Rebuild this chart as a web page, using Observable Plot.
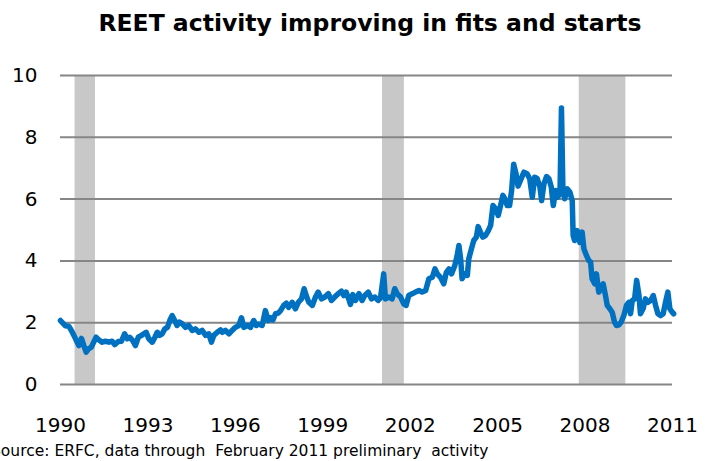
<!DOCTYPE html>
<html><head><meta charset="utf-8">
<script src="https://cdn.jsdelivr.net/npm/d3@7"></script>
<script src="https://cdn.jsdelivr.net/npm/@observablehq/plot@0.6"></script>
<style>
body{margin:0;background:#fff;width:712px;height:461px;overflow:hidden;position:relative;font-family:"DejaVu Sans",Verdana,sans-serif}
#title{position:absolute;left:0;top:9px;width:740px;text-align:center;font-weight:bold;font-size:23.5px;color:#000;white-space:nowrap}
#chart{position:absolute;left:0;top:44px}
#source{position:absolute;left:-9px;top:442px;font-size:15.5px;white-space:pre;color:#000}
</style></head><body>
<div id="title">REET activity improving in fits and starts</div>
<div id="chart"></div>
<div id="source">Source: ERFC, data through  February 2011 preliminary  activity</div>
<script>
const xTicks = [1990, 1993, 1996, 1999, 2002, 2005, 2008, 2011];
const yTicks = [0, 2, 4, 6, 8, 10];
const recessionStart = [1990.5, 2001.05, 2007.8];
const recessionEnd = [1991.2, 2001.8, 2009.4];
const years = [
1990.00,1990.17,1990.29,1990.40,1990.46,1990.57,1990.63,1990.72,1990.80,1990.88,1990.97,
1991.06,1991.14,1991.22,1991.31,1991.43,1991.54,1991.66,1991.77,1991.86,1991.98,
1992.09,1992.20,1992.29,1992.37,1992.48,1992.57,1992.67,1992.78,1992.86,1992.94,
1993.03,1993.15,1993.24,1993.32,1993.40,1993.49,1993.58,1993.67,1993.75,1993.83,1993.92,
1994.00,1994.08,1994.18,1994.29,1994.40,1994.52,1994.63,1994.75,1994.86,1994.98,
1995.09,1995.18,1995.26,1995.38,1995.49,1995.55,1995.66,1995.78,1995.89,
1996.00,1996.12,1996.21,1996.29,1996.41,1996.52,1996.63,1996.72,1996.80,1996.92,
1997.03,1997.13,1997.21,1997.29,1997.38,1997.47,1997.55,1997.66,1997.75,1997.83,1997.95,
1998.06,1998.16,1998.27,1998.36,1998.43,1998.52,1998.64,1998.75,1998.84,1998.96,
1999.07,1999.19,1999.30,1999.41,1999.53,1999.64,1999.72,1999.80,1999.89,1999.95,
2000.03,2000.12,2000.24,2000.35,2000.44,2000.56,2000.67,2000.79,2000.90,2000.98,
2001.09,2001.15,2001.27,2001.38,2001.47,2001.55,2001.67,2001.78,2001.86,2001.95,
2002.07,2002.18,2002.30,2002.41,2002.53,2002.64,2002.76,2002.85,2002.93,
2003.04,2003.15,2003.24,2003.33,2003.42,2003.53,2003.61,2003.67,2003.73,2003.78,2003.87,2003.96,
2004.01,2004.10,2004.18,2004.27,2004.33,2004.41,2004.49,2004.58,2004.68,2004.76,2004.84,2004.93,
2005.02,2005.10,2005.18,2005.25,2005.33,2005.41,2005.48,2005.55,2005.63,2005.70,2005.79,2005.90,
2006.01,2006.10,2006.19,2006.27,2006.36,2006.45,2006.51,2006.59,2006.68,2006.76,2006.84,2006.91,2006.99,
2007.06,2007.14,2007.19,2007.24,2007.30,2007.39,2007.48,2007.56,2007.59,2007.64,2007.73,2007.82,2007.90,2007.96,
2008.05,2008.13,2008.19,2008.24,2008.33,2008.39,2008.47,2008.55,2008.62,2008.70,2008.76,2008.85,2008.93,
2009.01,2009.08,2009.16,2009.24,2009.33,2009.42,2009.50,2009.56,2009.62,2009.70,2009.77,2009.85,2009.90,2009.99,
2010.07,2010.15,2010.25,2010.34,2010.42,2010.50,2010.59,2010.68,2010.76,2010.84,2010.91,2010.99,2011.04
];
const values = [
2.07,1.90,1.88,1.70,1.59,1.37,1.26,1.49,1.26,1.05,1.16,
1.21,1.37,1.53,1.45,1.37,1.40,1.37,1.40,1.29,1.39,
1.40,1.64,1.48,1.53,1.42,1.26,1.53,1.59,1.64,1.69,
1.48,1.37,1.53,1.69,1.59,1.64,1.80,1.85,2.07,2.23,2.07,
1.91,2.02,1.96,1.85,1.91,1.75,1.80,1.69,1.75,1.59,
1.64,1.37,1.59,1.69,1.77,1.69,1.75,1.64,1.75,
1.85,1.91,2.16,1.85,1.91,1.85,2.07,1.91,1.96,1.91,
2.39,2.07,2.16,2.09,2.29,2.31,2.39,2.56,2.63,2.50,2.66,
2.45,2.66,2.77,3.10,2.88,2.66,2.56,2.83,2.99,2.77,
2.83,2.94,2.72,2.83,2.94,3.02,2.88,2.99,2.77,2.59,
2.91,2.72,2.94,2.72,2.88,2.99,2.77,2.83,2.72,2.80,
3.58,2.77,2.83,2.77,3.10,2.94,2.83,2.61,2.56,2.88,
2.94,2.99,3.04,2.99,3.04,3.42,3.47,3.74,3.58,
3.47,3.26,3.63,3.74,3.58,3.85,4.17,4.50,4.07,3.42,3.58,3.53,
4.07,4.39,4.66,4.77,5.11,4.93,4.77,4.82,4.98,5.15,5.79,5.69,
5.47,5.79,6.12,6.01,5.79,5.79,6.28,7.13,6.82,6.42,6.62,6.87,
6.82,6.66,6.06,6.71,6.66,6.39,5.95,6.50,6.73,6.66,6.39,5.79,6.28,
6.06,6.20,8.95,6.28,6.01,6.33,6.22,5.95,4.82,4.66,4.98,4.60,4.93,4.39,
4.17,4.01,3.96,3.42,3.26,3.58,2.99,3.10,3.26,2.88,2.56,2.45,2.34,
2.02,1.91,1.93,2.02,2.23,2.56,2.66,2.29,2.72,2.77,3.37,2.88,2.29,2.45,
2.77,2.66,2.72,2.88,2.56,2.29,2.23,2.29,2.66,2.99,2.45,2.34,2.29
];
const series = years.map((y, i) => ({year: y, value: values[i]}));
const recessions = recessionStart.map((s, i) => ({start: s, end: recessionEnd[i]}));
const plot = Plot.plot({
  width: 712, height: 400,
  marginTop: 31, marginBottom: 60, marginLeft: 60, marginRight: 40,
  style: {fontFamily: "'DejaVu Sans', Verdana, sans-serif", fontSize: "20px", color: "#000", background: "#fff"},
  x: {domain: [1990, 2011], ticks: xTicks, tickFormat: d => String(d), tickSize: 0, tickPadding: 33, label: null},
  y: {domain: [0, 10], ticks: yTicks, tickSize: 0, tickPadding: 23, label: null},
  marks: [
    Plot.rect(recessions, {x1: "start", x2: "end", y1: 0, y2: 10, fill: "#c8c8c8"}),
    Plot.ruleY(yTicks, {stroke: "#868686", strokeWidth: 2}),
    Plot.line(series, {x: "year", y: "value", stroke: "#0070c0", strokeWidth: 5.5, strokeLinejoin: "round", strokeLinecap: "round"})
  ]
});
document.getElementById("chart").appendChild(plot);
</script>
</body></html>
